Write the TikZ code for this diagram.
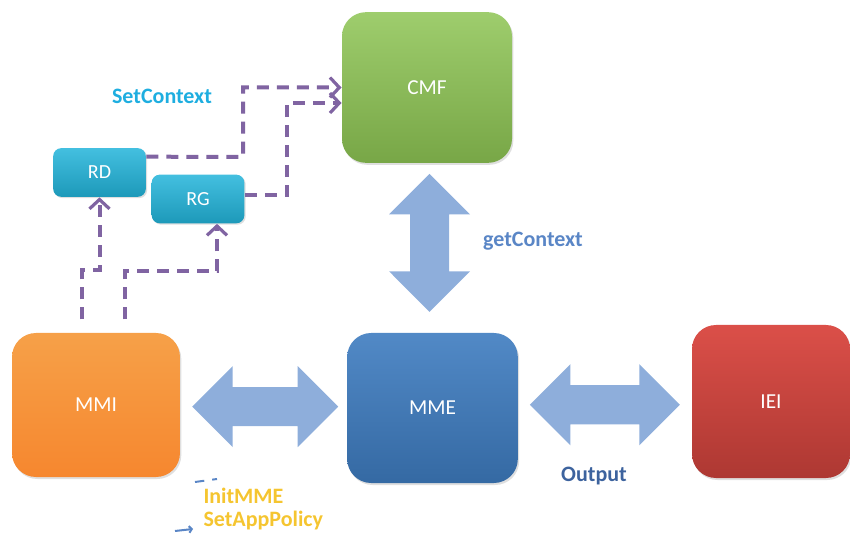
\documentclass[tikz,border=0pt]{standalone}
\usepackage{fontspec}
\setmainfont{Carlito}
\usetikzlibrary{arrows.meta,calc,shapes.arrows,shadows}

\definecolor{cmfgreen}{HTML}{8DC453}
\definecolor{rcyan}{HTML}{22B4DA}
\definecolor{mmiorange}{HTML}{F59634}
\definecolor{mmeblue}{HTML}{3E7CC0}
\definecolor{ieired}{HTML}{D9463F}
\definecolor{fatblue}{HTML}{8EAEDB}
\definecolor{ctxpurple}{HTML}{8064A2}
\definecolor{setcyan}{HTML}{1EAEE0}
\definecolor{getblue}{HTML}{5A86C6}
\definecolor{outblue}{HTML}{3D639E}
\definecolor{polyellow}{HTML}{F5C530}

\tikzset{
    bigbox/.style={rounded corners=18pt, inner sep=0pt, text=white,
        font=\fontsize{16}{19}\selectfont,
        drop shadow={shadow xshift=1pt, shadow yshift=-1.5pt, opacity=0.25}},
    smallbox/.style={rounded corners=6pt, inner sep=0pt, text=white,
        font=\fontsize{15}{18}\selectfont,
        top color=rcyan!85!white, bottom color=rcyan!85!black,
        minimum width=69.5pt, minimum height=36.5pt,
        drop shadow={shadow xshift=1pt, shadow yshift=-1pt, opacity=0.25}},
    fatarrow/.style={double arrow, fill=fatblue, draw=none, inner xsep=0pt,
        inner ysep=14.25pt, double arrow head extend=15.75pt,
        minimum width=60pt},
    ctxline/.style={ctxpurple, line width=3pt, dash pattern=on 9pt off 6pt,
        -{Straight Barb[length=7pt,width=15pt,line width=2.4pt]}},
    lbl/.style={font=\bfseries\fontsize{16.5}{19}\selectfont, inner sep=0pt}
}

\begin{document}
\begin{tikzpicture}[
        x=0.75pt,
        y=0.75pt,
        yscale=-1,
        xscale=1,
        line width=0.75pt
    ]
    \useasboundingbox (0,0) rectangle (850,552);

    % main blocks
    \node[bigbox, top color=cmfgreen!85!white, bottom color=cmfgreen!85!black,
        minimum width=127.5pt, minimum height=113pt] (CMF) at (427,87.5) {CMF};
    \node[bigbox, top color=mmiorange!90!white, bottom color=mmiorange!90!red,
        minimum width=126pt, minimum height=108pt] (MMI) at (96,405) {MMI};
    \node[bigbox, top color=mmeblue!90!white, bottom color=mmeblue!85!black,
        minimum width=128pt, minimum height=112.5pt] (MME) at (432.5,408) {MME};
    \node[bigbox, top color=ieired!95!white, bottom color=ieired!80!black,
        minimum width=118.5pt, minimum height=114.75pt] (IEI) at (771,401.5) {IEI};

    \node[smallbox] (RD) at (99.5,172.5) {RD};
    \node[smallbox] (RG) at (198,199) {RG};

    % fat arrows
    \node[fatarrow, minimum height=109.5pt] (mmiarrow) at ($(MMI.east)!0.51!(MME.west)$) {};
    \node[fatarrow, minimum height=112.5pt] (outarrow) at ($(MME.east)!0.5!(IEI.west)$) {};
    \node[fatarrow, minimum height=103.5pt, rotate=90] (getarrow)
        at ($(CMF.south)!0.47!(MME.north)$) {};

    % context paths
    \draw[ctxline] ($(RD.north east)+(0,9)$) -- (243,157) -- (243,87.5) -- (CMF.west);
    \draw[ctxline] ($(RG.east)+(0,-4)$) -- (287,195) -- (287,103) -- ($(CMF.west)+(0,15.5)$);
    \draw[ctxline] ($(MMI.north)+(-14,-13)$) -- ++(0,-49) -| (RD.south);
    \draw[ctxline] ($(MMI.north)+(29,-13)$) -- ++(0,-48) -| ($(RG.south)+(19,0)$);

    % labels
    \node[lbl, text=setcyan] (setctx) at (162,96) {SetContext};
    \node[lbl, text=getblue] (getctx) at (533,241) {getContext};
    \node[lbl, text=outblue] (outlbl) at (594,476) {Output};
    \node[lbl, text=polyellow, anchor=west] (initmme) at (203,496) {InitMME};
    \node[lbl, text=polyellow, anchor=west] (apppol) at (203,521) {SetAppPolicy};

    % cut-off fragments
    \draw[getblue, line width=1.5pt, dash pattern=on 7pt off 6pt] (195,482) -- (217,479);
    \draw[getblue, line width=1.5pt, -{Straight Barb[length=2pt,width=5pt]}] (175,531) -- (193,529);
\end{tikzpicture}
\end{document}
